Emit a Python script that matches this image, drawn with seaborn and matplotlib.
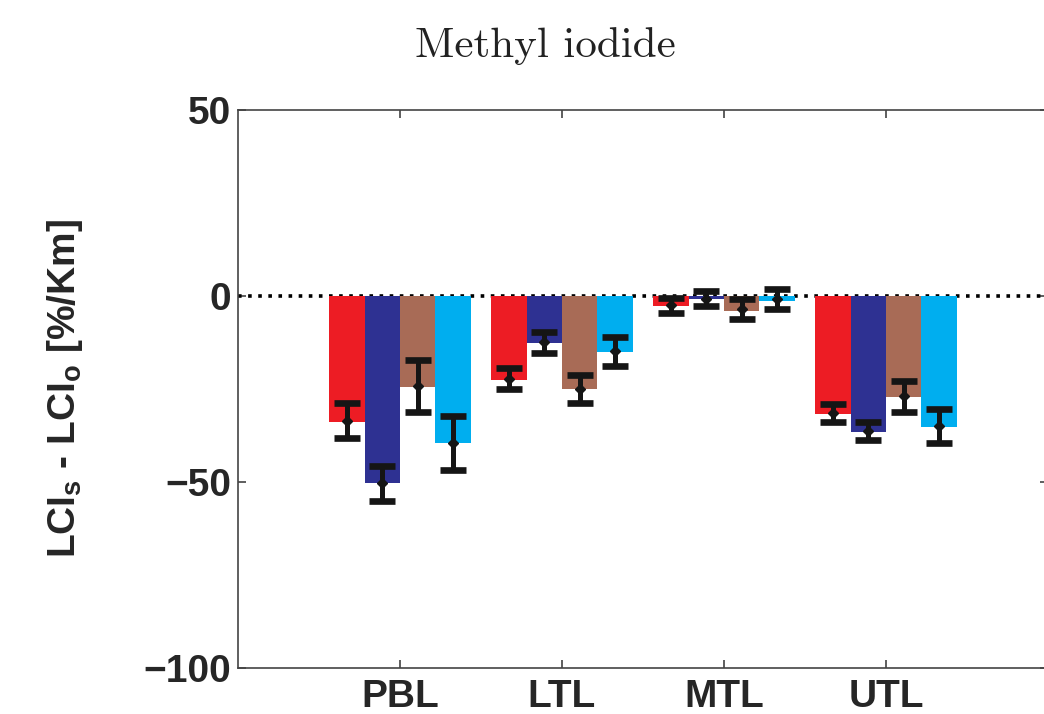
import matplotlib
matplotlib.use("Agg")
import matplotlib.pyplot as plt
import seaborn as sns
import pandas as pd
import numpy as np

# ---- data ----
layers = ["PBL", "LTL", "MTL", "UTL"]
series = ["S1", "S2", "S3", "S4"]
colors = ["#ED1C24", "#2E3192", "#A86B56", "#00AEEF"]

bar_s1 = [-33.9, -22.6, -2.6, -31.7]
bar_s2 = [-50.4, -12.7, -0.8, -36.5]
bar_s3 = [-24.5, -25.0, -4.0, -27.1]
bar_s4 = [-39.6, -15.1, -1.3, -35.1]

mean_s1 = [-33.5, -22.2, -2.5, -31.5]
mean_s2 = [-50.4, -12.4, -0.7, -36.2]
mean_s3 = [-24.2, -25.0, -3.6, -27.0]
mean_s4 = [-39.6, -14.9, -0.7, -35.0]

err_s1 = [4.7, 2.9, 2.0, 2.5]
err_s2 = [4.8, 2.8, 2.0, 2.4]
err_s3 = [7.0, 3.8, 2.7, 4.1]
err_s4 = [7.3, 4.0, 2.7, 4.6]

yticks = [-100, -50, 0, 50]

bars = [bar_s1, bar_s2, bar_s3, bar_s4]
means = [mean_s1, mean_s2, mean_s3, mean_s4]
errs = [err_s1, err_s2, err_s3, err_s4]

rows = []
for s, vals in zip(series, bars):
    for l, v in zip(layers, vals):
        rows.append({"layer": l, "series": s, "value": v})
df = pd.DataFrame(rows)

sns.set_theme(style="white")
plt.rcParams["font.family"] = ["Liberation Sans", "DejaVu Sans"]
plt.rcParams["font.weight"] = "bold"
plt.rcParams["mathtext.default"] = "regular"

fig = plt.figure(figsize=(10.44, 7.14), dpi=100)
ax = fig.add_axes([238 / 1044, 46 / 714, 810 / 1044, 558 / 714])

sns.barplot(data=df, x="layer", y="value", hue="series", order=layers,
            hue_order=series, palette=colors, width=0.875, errorbar=None,
            saturation=1, linewidth=0, legend=False, ax=ax, zorder=2)

# zero line
ax.axhline(0, color="black", lw=2.6, ls=(0, (1, 1.8)), zorder=1)

# error bars at bar centres (positions read from drawn patches)
patches = [p for p in ax.patches if p.get_width() > 0]
patches.sort(key=lambda p: p.get_x())
centres = np.array([p.get_x() + p.get_width() / 2 for p in patches]).reshape(len(layers), len(series))
for j in range(len(series)):
    ax.errorbar(centres[:, j], means[j], yerr=errs[j], fmt="D", color="#151515",
                ms=5.5, elinewidth=3.6, capsize=9.5, capthick=4.8, zorder=4)

ax.set_xlim(-1, 4)
ax.set_ylim(-100, 50)
ax.set_yticks(yticks)
ax.set_yticklabels(["\u2212100", "\u221250", "0", "50"])
ax.set_xlabel("")
ax.set_ylabel("LCI$_{s}$ - LCI$_{o}$ [%/Km]", fontsize=28, fontweight="bold")
ax.yaxis.set_label_coords(-153 / 810, 0.5)

ax.tick_params(axis="both", which="both", direction="in", length=6, width=1.1,
               color="#333333", labelsize=28, top=True, right=True, bottom=True, left=True)
ax.tick_params(axis="x", pad=8)
ax.tick_params(axis="y", pad=5)
for lab in ax.get_xticklabels() + ax.get_yticklabels():
    lab.set_fontweight("bold")

for sp in ax.spines.values():
    sp.set_color("#444444")
    sp.set_linewidth(1.2)
    sp.set_visible(True)

fig.text(545 / 1044, 1 - 57 / 714, "Methyl iodide", fontfamily="cmr10",
         fontsize=31, ha="center", va="baseline", fontweight="normal", color="#222222")

fig.savefig("out.png", dpi=100)
